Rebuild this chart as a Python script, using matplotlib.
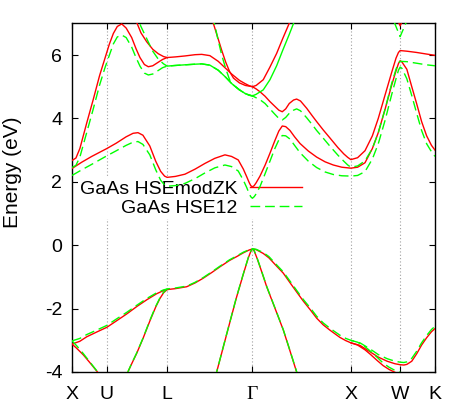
import numpy as np
import matplotlib.pyplot as plt

plt.rcParams["font.family"] = ["Liberation Sans", "DejaVu Sans"]

# high-symmetry path, k in units of 2pi/a
kpath_pos = [0.0, 0.354, 0.966, 1.832, 2.832, 3.332, 3.686]
kpath_labels = ["X", "U", "L", "Γ", "X", "W", "K"]

ytick_vals = [-4, -2, 0, 2, 4, 6]
ytick_labels = ["-4", "-2", "0", "2", "4", "6"]

series_names = ["GaAs HSEmodZK", "GaAs HSE12"]

# ---- valence bands ----
# top valence band along the whole path
k_vb1 = [0.0, 0.08, 0.149, 0.25, 0.354, 0.45, 0.555, 0.66, 0.76, 0.86, 0.93, 0.966,
         1.05, 1.165, 1.25, 1.333, 1.42, 1.503, 1.6, 1.672, 1.74, 1.80, 1.832,
         1.87, 1.942, 2.0, 2.078, 2.145, 2.213, 2.28, 2.348, 2.42, 2.484, 2.55, 2.619,
         2.721, 2.78, 2.832, 2.924, 3.025, 3.11, 3.2, 3.28, 3.332, 3.37, 3.40, 3.45,
         3.501, 3.55, 3.601, 3.65, 3.686]
e_vb1_zk = [-3.12, -3.03, -2.89, -2.74, -2.59, -2.39, -2.17, -1.93, -1.72, -1.53, -1.43, -1.40,
            -1.37, -1.31, -1.19, -1.04, -0.86, -0.68, -0.48, -0.36, -0.24, -0.15, -0.12,
            -0.14, -0.26, -0.40, -0.66, -0.88, -1.18, -1.47, -1.76, -2.04, -2.30, -2.51, -2.68,
            -2.91, -3.01, -3.08, -3.16, -3.36, -3.53, -3.66, -3.74, -3.77, -3.78, -3.76, -3.66,
            -3.42, -3.15, -2.92, -2.73, -2.63]
e_vb1_h12 = [-3.02, -2.94, -2.82, -2.68, -2.53, -2.33, -2.12, -1.89, -1.68, -1.50, -1.41, -1.38,
             -1.35, -1.29, -1.17, -1.02, -0.84, -0.66, -0.46, -0.34, -0.22, -0.14, -0.11,
             -0.13, -0.23, -0.36, -0.62, -0.84, -1.13, -1.42, -1.71, -1.98, -2.24, -2.45, -2.62,
             -2.84, -2.94, -3.00, -3.08, -3.27, -3.45, -3.58, -3.66, -3.69, -3.70, -3.68, -3.57,
             -3.34, -3.08, -2.85, -2.66, -2.56]

# band leaving X downwards
k_vb_xd = [0.0, 0.047, 0.115, 0.183, 0.251, 0.27]
e_vb_xd_zk = [-3.12, -3.25, -3.46, -3.71, -3.97, -4.05]
e_vb_xd_h12 = [-3.02, -3.17, -3.42, -3.69, -3.96, -4.05]

# band rising into L
k_vb_l = [0.56, 0.60, 0.657, 0.72, 0.792, 0.85, 0.893, 0.93, 0.966]
e_vb_l_zk = [-4.05, -3.78, -3.41, -2.95, -2.38, -1.95, -1.68, -1.50, -1.40]
e_vb_l_h12 = [-4.05, -3.77, -3.40, -2.94, -2.36, -1.93, -1.66, -1.48, -1.38]

# light band through Gamma
k_vb_g = [1.45, 1.469, 1.55, 1.604, 1.67, 1.739, 1.79, 1.815, 1.832,
          1.85, 1.88, 1.92, 1.977, 2.06, 2.145, 2.21, 2.281, 2.30]
e_vb_g_zk = [-4.2, -4.0, -3.05, -2.42, -1.65, -0.92, -0.40, -0.20, -0.12,
             -0.18, -0.42, -0.78, -1.31, -1.98, -2.67, -3.30, -4.0, -4.2]
e_vb_g_h12 = [-4.2, -4.0, -3.04, -2.41, -1.64, -0.91, -0.39, -0.19, -0.11,
              -0.17, -0.41, -0.77, -1.30, -1.97, -2.66, -3.29, -3.99, -4.2]

# lower branch after X towards W
k_vb_xw = [2.832, 2.90, 2.975, 3.025, 3.10, 3.16, 3.22, 3.28, 3.332, 3.36]
e_vb_xw_zk = [-3.08, -3.15, -3.30, -3.43, -3.64, -3.80, -3.92, -4.01, -4.10, -4.15]
e_vb_xw_h12 = [-3.00, -3.06, -3.20, -3.33, -3.54, -3.72, -3.85, -3.95, -4.01, -4.06]

# ---- conduction bands ----
# lowest conduction band
k_cb1 = [0.0, 0.1, 0.2, 0.354, 0.45, 0.55, 0.62, 0.67, 0.72, 0.79, 0.85, 0.90, 0.94, 0.966,
         1.05, 1.147, 1.25, 1.35, 1.45, 1.553, 1.62, 1.688, 1.74, 1.774, 1.80, 1.815, 1.832,
         1.85, 1.87, 1.909, 1.96, 2.01, 2.06, 2.10, 2.135, 2.17, 2.213, 2.26, 2.315, 2.40,
         2.484, 2.57, 2.653, 2.74, 2.832,
         2.90, 2.975, 3.05, 3.11, 3.18, 3.246, 3.29, 3.315, 3.332, 3.35, 3.40, 3.45, 3.501,
         3.55, 3.601, 3.65, 3.686]
e_cb1_zk = [2.42, 2.62, 2.80, 3.05, 3.22, 3.42, 3.53, 3.55, 3.47, 3.13, 2.65, 2.33, 2.18, 2.14,
            2.17, 2.24, 2.40, 2.58, 2.74, 2.85, 2.80, 2.69, 2.40, 2.16, 1.97, 1.88, 1.84,
            1.88, 1.97, 2.18, 2.52, 2.90, 3.30, 3.60, 3.76, 3.74, 3.62, 3.42, 3.21, 2.97,
            2.78, 2.63, 2.53, 2.46, 2.43,
            2.46, 2.60, 3.05, 3.55, 4.30, 5.05, 5.50, 5.73, 5.82, 5.78, 5.55, 5.00, 4.45,
            3.90, 3.45, 3.15, 3.00]
e_cb1_h12 = [2.20, 2.38, 2.55, 2.82, 2.98, 3.15, 3.25, 3.27, 3.18, 2.85, 2.38, 2.05, 1.90, 1.86,
             1.88, 1.95, 2.10, 2.28, 2.44, 2.53, 2.48, 2.34, 2.05, 1.82, 1.62, 1.53, 1.48,
             1.53, 1.62, 1.85, 2.25, 2.65, 3.05, 3.32, 3.46, 3.45, 3.35, 3.15, 2.92, 2.65,
             2.45, 2.31, 2.23, 2.19, 2.18,
             2.20, 2.32, 2.72, 3.20, 3.95, 4.75, 5.25, 5.52, 5.62, 5.58, 5.25, 4.72, 4.15,
             3.62, 3.20, 2.95, 2.80]

# second conduction band
k_cb2 = [0.0, 0.04, 0.08, 0.149, 0.216, 0.28, 0.335, 0.38, 0.42, 0.46, 0.505, 0.55, 0.606,
         0.65, 0.69, 0.735, 0.775, 0.82, 0.86, 0.92, 0.966,
         1.05, 1.147, 1.25, 1.317, 1.40, 1.485, 1.56, 1.621, 1.70, 1.756, 1.80, 1.832,
         1.87, 1.909, 1.96, 2.01, 2.06, 2.10, 2.135, 2.17, 2.206, 2.25, 2.281, 2.32, 2.383,
         2.44, 2.484, 2.55, 2.62, 2.70, 2.76, 2.80, 2.832,
         2.90, 2.975, 3.05, 3.11, 3.18, 3.246, 3.29, 3.315, 3.332, 3.40, 3.50, 3.60, 3.686]
e_cb2_zk = [2.67, 2.75, 3.05, 3.85, 4.60, 5.35, 5.90, 6.35, 6.68, 6.90, 6.98, 6.85, 6.55,
            6.20, 5.92, 5.70, 5.63, 5.66, 5.74, 5.86, 5.92,
            5.94, 5.97, 6.01, 6.02, 5.98, 5.80, 5.58, 5.40, 5.20, 5.10, 5.03, 5.00,
            4.93, 4.84, 4.70, 4.53, 4.38, 4.26, 4.21, 4.30, 4.47, 4.58, 4.61, 4.55, 4.32,
            4.08, 3.90, 3.64, 3.38, 3.08, 2.88, 2.77, 2.70,
            2.76, 2.98, 3.45, 4.00, 4.75, 5.45, 5.90, 6.08, 6.14, 6.12, 6.08, 6.03, 5.99]
e_cb2_h12 = [2.45, 2.52, 2.78, 3.55, 4.30, 5.05, 5.60, 6.00, 6.35, 6.57, 6.63, 6.55, 6.25,
             5.92, 5.65, 5.43, 5.37, 5.40, 5.48, 5.60, 5.65,
             5.67, 5.69, 5.71, 5.72, 5.68, 5.52, 5.30, 5.10, 4.90, 4.79, 4.73, 4.71,
             4.65, 4.59, 4.47, 4.30, 4.13, 4.00, 3.95, 4.03, 4.16, 4.26, 4.30, 4.24, 4.02,
             3.80, 3.62, 3.38, 3.12, 2.84, 2.65, 2.53, 2.46,
             2.50, 2.66, 3.05, 3.55, 4.30, 5.10, 5.55, 5.75, 5.80, 5.79, 5.74, 5.69, 5.66]

# band coming down into L
k_cb3 = [0.64, 0.67, 0.70, 0.758, 0.82, 0.876, 0.93, 0.966]
e_cb3_zk = [7.15, 6.93, 6.70, 6.42, 6.18, 6.04, 5.95, 5.92]
e_cb3_h12 = [7.40, 7.12, 6.90, 6.52, 6.12, 5.87, 5.72, 5.65]

# band coming down into Gamma from the L side
k_cb4 = [1.42, 1.45, 1.48, 1.52, 1.56, 1.60, 1.64, 1.70, 1.76, 1.832]
e_cb4_zk = [7.15, 6.85, 6.55, 6.15, 5.78, 5.48, 5.27, 5.12, 5.04, 5.00]
e_cb4_h12 = [7.25, 6.95, 6.52, 6.00, 5.58, 5.22, 5.05, 4.90, 4.78, 4.71]

# band leaving Gamma upwards towards X
k_cb5 = [1.832, 1.87, 1.942, 2.01, 2.078, 2.14, 2.206, 2.25]
e_cb5_zk = [5.00, 5.04, 5.22, 5.62, 6.05, 6.52, 7.00, 7.35]
e_cb5_h12 = [4.71, 4.76, 4.90, 5.22, 5.66, 6.15, 6.65, 7.00]

# small dip at W near the top
k_cbw = [3.27, 3.30, 3.332, 3.365, 3.40]
e_cbw_zk = [7.45, 7.15, 6.92, 7.15, 7.45]
e_cbw_h12 = [7.05, 6.82, 6.58, 6.82, 7.08]


def main():
    red = "#ff0000"
    green = "#00ff00"
    dash = (0, (7, 3.5))

    zk_bands = [(k_vb1, e_vb1_zk), (k_vb_xd, e_vb_xd_zk), (k_vb_l, e_vb_l_zk),
                (k_vb_g, e_vb_g_zk), (k_vb_xw, e_vb_xw_zk), (k_cb1, e_cb1_zk),
                (k_cb2, e_cb2_zk), (k_cb3, e_cb3_zk), (k_cb4, e_cb4_zk),
                (k_cb5, e_cb5_zk), (k_cbw, e_cbw_zk)]
    h12_bands = [(k_vb1, e_vb1_h12, dash), (k_vb_xd, e_vb_xd_h12, dash),
                 (k_vb_l, e_vb_l_h12, dash), (k_vb_g, e_vb_g_h12, dash),
                 (k_vb_xw, e_vb_xw_h12, dash), (k_cb1, e_cb1_h12, dash),
                 (k_cb2, e_cb2_h12, dash), (k_cb3, e_cb3_h12, dash),
                 (k_cb4, e_cb4_h12, dash), (k_cb5, e_cb5_h12, "-"),
                 (k_cbw, e_cbw_h12, dash)]

    fig = plt.figure(figsize=(4.71, 4.12), dpi=100)
    ax = fig.add_axes([72 / 471, 1 - 372 / 412, (435 - 72) / 471, (372 - 23.3) / 412])

    # dotted lines at the inner k-points
    for x in kpath_pos[1:-1]:
        ax.axvline(x, color="#a0a0a0", lw=0.8, ls=(0, (1, 2)), zorder=1)

    for i, (k, e) in enumerate(zk_bands):
        ax.plot(k, e, color=red, lw=1.0, zorder=3,
                label=series_names[0] if i == 0 else None)
    for i, (k, e, ls) in enumerate(h12_bands):
        ax.plot(k, e, color=green, lw=1.0, ls=ls, zorder=4,
                label=series_names[1] if i == 0 else None)

    # the flat L-Gamma part of the green band looks continuous
    k2 = np.array(k_cb2)
    sel = (k2 >= kpath_pos[2]) & (k2 <= kpath_pos[3])
    ax.plot(k2[sel], np.array(e_cb2_h12)[sel], color=green, lw=1.0, zorder=4)

    ax.set_xlim(kpath_pos[0], kpath_pos[-1])
    ax.set_ylim(-4, 7)
    ax.set_xticks(kpath_pos)
    ax.set_xticklabels(kpath_labels)
    ax.set_yticks(ytick_vals)
    ax.set_yticklabels(ytick_labels)
    ax.xaxis.get_ticklabels()[3].set_fontfamily(["Liberation Serif", "DejaVu Serif"])

    ax.tick_params(axis="both", direction="in", length=4, width=0.8,
                   top=True, right=True, labelsize=14, colors="black")
    ax.tick_params(axis="x", pad=10)
    ax.tick_params(axis="y", pad=7)
    for s in ax.spines.values():
        s.set_linewidth(1.0)

    ax.set_ylabel("Energy (eV)", fontsize=15)
    ax.yaxis.set_label_coords(-0.138, 0.574)

    leg = ax.legend(loc="upper right", bbox_to_anchor=(0.639, 0.556), markerfirst=False,
                    fontsize=14, handlelength=2.7, handletextpad=0.6, labelspacing=0.1,
                    borderpad=0.1, borderaxespad=0, frameon=True, fancybox=False,
                    framealpha=1, facecolor="white", edgecolor="none")
    leg.set_zorder(2)

    fig.savefig("out.png", dpi=100)
    plt.close(fig)


if __name__ == "__main__":
    main()
